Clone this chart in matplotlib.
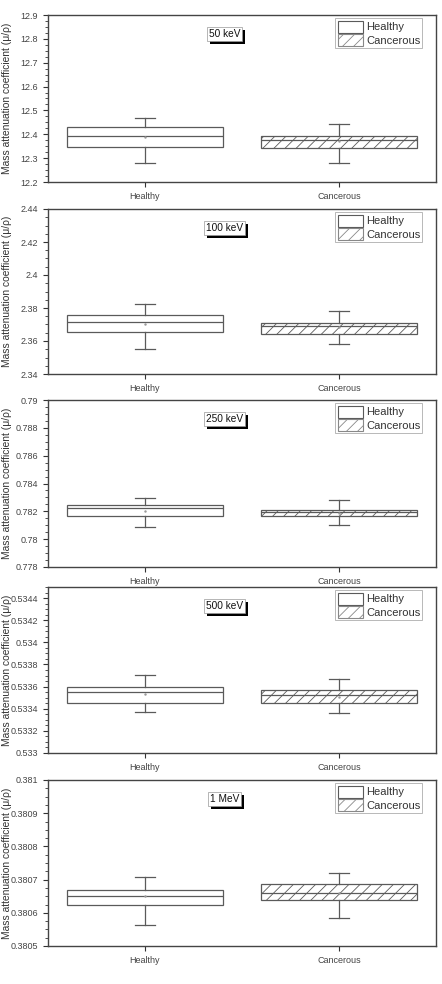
import matplotlib
matplotlib.use("Agg")
import matplotlib.pyplot as plt
from matplotlib.ticker import AutoMinorLocator, FixedLocator
from matplotlib.patches import Patch
import matplotlib.patheffects as pe

plt.rcParams['font.family'] = ['Liberation Sans', 'DejaVu Sans']
plt.rcParams['hatch.color'] = '#808080'
plt.rcParams['hatch.linewidth'] = 0.6

groups = ["Healthy", "Cancerous"]
energies = ["50 keV", "100 keV", "250 keV", "500 keV", "1 MeV"]

# per panel: [healthy, cancerous] -> (whislo, q1, med, q3, whishi, mean)
stats_50 = [(12.279, 12.346, 12.394, 12.429, 12.470, 12.387),
            (12.279, 12.342, 12.376, 12.392, 12.444, 12.370)]
stats_100 = [(2.3554, 2.3653, 2.3715, 2.3760, 2.3826, 2.3700),
             (2.3580, 2.3644, 2.3689, 2.3711, 2.3784, 2.3685)]
stats_250 = [(0.78089, 0.78166, 0.78223, 0.78245, 0.78295, 0.78204),
             (0.78104, 0.78168, 0.78194, 0.78211, 0.78278, 0.78190)]
stats_500 = [(0.533367, 0.533449, 0.533548, 0.533600, 0.533708, 0.533530),
             (0.533358, 0.533450, 0.533524, 0.533569, 0.533671, 0.533510)]
stats_1mev = [(0.3805621, 0.3806242, 0.3806513, 0.3806693, 0.3807074, 0.3806500),
              (0.3805852, 0.3806383, 0.3806593, 0.3806854, 0.3807184, 0.3806600)]
all_stats = [stats_50, stats_100, stats_250, stats_500, stats_1mev]

ylims = [(12.2, 12.9), (2.34, 2.44), (0.778, 0.79), (0.533, 0.5345), (0.3805, 0.381)]
yticks = [[12.2, 12.3, 12.4, 12.5, 12.6, 12.7, 12.8, 12.9],
          [2.34, 2.36, 2.38, 2.4, 2.42, 2.44],
          [0.778, 0.78, 0.782, 0.784, 0.786, 0.788, 0.79],
          [0.533, 0.5332, 0.5334, 0.5336, 0.5338, 0.534, 0.5342, 0.5344],
          [0.3805, 0.3806, 0.3807, 0.3808, 0.3809, 0.381]]
ytick_labels = [["12.2", "12.3", "12.4", "12.5", "12.6", "12.7", "12.8", "12.9"],
                ["2.34", "2.36", "2.38", "2.4", "2.42", "2.44"],
                ["0.778", "0.78", "0.782", "0.784", "0.786", "0.788", "0.79"],
                ["0.533", "0.5332", "0.5334", "0.5336", "0.5338", "0.534", "0.5342", "0.5344"],
                ["0.3805", "0.3806", "0.3807", "0.3808", "0.3809", "0.381"]]

# panel boxes in pixels (top, bottom)
panel_px = [(15, 182), (209, 374), (400, 567), (587, 753), (780, 946)]
W, H = 442, 984
line_c = '#5a5a5a'

fig = plt.figure(figsize=(W / 100, H / 100), dpi=100)
for i in range(5):
    top, bot = panel_px[i]
    ax = fig.add_axes([48 / W, 1 - bot / H, 388 / W, (bot - top) / H])
    bstats = []
    for g, s in zip(groups, all_stats[i]):
        bstats.append(dict(label=g, whislo=s[0], q1=s[1], med=s[2], q3=s[3],
                           whishi=s[4], mean=s[5], fliers=[]))
    res = ax.bxp(bstats, positions=[1, 2], widths=0.8, capwidths=0.1,
                 patch_artist=True, showmeans=True,
                 boxprops=dict(edgecolor=line_c, linewidth=0.9),
                 medianprops=dict(color=line_c, linewidth=0.9),
                 whiskerprops=dict(color=line_c, linewidth=0.9),
                 capprops=dict(color=line_c, linewidth=0.9),
                 meanprops=dict(marker='.', markersize=1.5, markerfacecolor='#999999',
                                markeredgecolor='#999999'))
    res['boxes'][0].set_facecolor('white')
    res['boxes'][1].set_facecolor('white')
    res['boxes'][1].set_hatch('///')
    ax.set_xlim(0.5, 2.5)
    ax.set_ylim(*ylims[i])
    ax.yaxis.set_major_locator(FixedLocator(yticks[i]))
    ax.set_yticklabels(ytick_labels[i])
    ax.yaxis.set_minor_locator(AutoMinorLocator(4))
    ax.tick_params(axis='both', which='major', direction='out', length=3.5, width=0.8,
                   labelsize=6.5, colors='#333333', labelcolor='#444444')
    ax.tick_params(axis='y', which='minor', direction='out', length=2, width=0.6, colors='#333333')
    for sp in ax.spines.values():
        sp.set_color('#444444')
        sp.set_linewidth(1.0)
    ax.set_ylabel("Mass attenuation coefficient (μ/ρ)", fontsize=7.4, color='#333333')
    ax.yaxis.set_label_coords(-0.094, 0.5)

    # energy label in a box with a black drop shadow
    lbl = ax.text(0.455, 0.885, energies[i], transform=ax.transAxes, ha='center',
                  va='center', fontsize=7.3, color='#111111',
                  bbox=dict(boxstyle='square,pad=0.2', facecolor='white',
                            edgecolor='#999999', linewidth=0.5))
    lbl.get_bbox_patch().set_path_effects([
        pe.SimplePatchShadow(offset=(2.2, -2.2), shadow_rgbFace='black', alpha=1.0),
        pe.Normal()])

    handles = [Patch(facecolor='white', edgecolor=line_c, linewidth=0.8, label='Healthy'),
               Patch(facecolor='white', edgecolor='#888888', linewidth=0.8, hatch='///',
                     label='Cancerous')]
    leg = ax.legend(handles=handles, loc='upper right', fontsize=8, frameon=True,
                    fancybox=False, edgecolor='#999999', borderpad=0.2, labelspacing=0.1,
                    handlelength=2.3, handleheight=1.3, handletextpad=0.25,
                    borderaxespad=0.0, bbox_to_anchor=(0.965, 0.98))
    leg.get_frame().set_linewidth(0.6)
    for t in leg.get_texts():
        t.set_color('#333333')

fig.savefig("out.png", dpi=100)
